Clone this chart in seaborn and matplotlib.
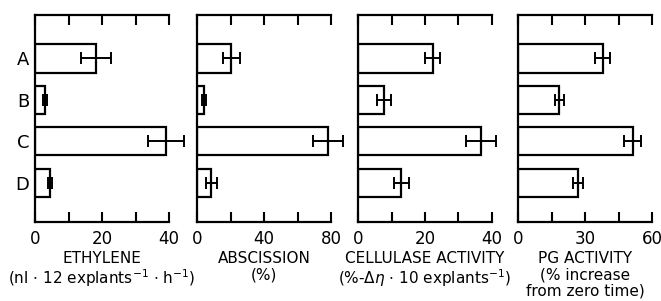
import numpy as np
import pandas as pd
import seaborn as sns
from matplotlib import pyplot as plt
from matplotlib.ticker import MultipleLocator

# data (bar value, +/- error)
treatments = ['A', 'B', 'C', 'D']
ethylene = [18.2, 3.0, 39.1, 4.5]
ethylene_err = [4.4, 0.6, 5.5, 0.7]
abscission = [20.5, 4.2, 78.0, 8.4]
abscission_err = [5.0, 1.2, 9.0, 3.3]
cellulase = [22.3, 7.8, 36.7, 12.9]
cellulase_err = [2.3, 2.0, 4.5, 2.3]
pg = [37.9, 18.5, 51.4, 27.0]
pg_err = [3.4, 2.0, 3.8, 2.2]

panels = [
     ('ETHYLENE\n(nl $\\cdot$ 12 explants$^{-1}$ $\\cdot$ h$^{-1}$)', ethylene, ethylene_err, 40, 20, 10),
     ('ABSCISSION\n(%)', abscission, abscission_err, 80, 40, 20),
     ('CELLULASE ACTIVITY\n(%-$\\Delta\\eta$ $\\cdot$ 10 explants$^{-1}$)', cellulase, cellulase_err, 40, 20, 10),
     ('PG ACTIVITY\n(% increase\nfrom zero time)', pg, pg_err, 60, 30, 15),
]

sns.set_theme(style='white', rc={'text.color': 'black', 'axes.labelcolor': 'black',
                                 'xtick.color': 'black', 'ytick.color': 'black'})
plt.rcParams['font.family'] = ['DejaVu Sans']

W, H = 661, 301
fig = plt.figure(figsize=(W / 100, H / 100), dpi=100)
lefts = [35, 197, 358, 518]

for i, (label, vals, errs, xmax, major, minor) in enumerate(panels):
     ax = fig.add_axes([lefts[i] / W, 79 / H, 134 / W, 207 / H])
     df = pd.DataFrame({'treatment': treatments, 'value': vals})
     sns.barplot(data=df, x='value', y='treatment', orient='h', color='white',
                 edgecolor='black', linewidth=1.6, width=0.68, errorbar=None, ax=ax)
     eb = ax.errorbar(x=vals, y=np.arange(len(treatments)), xerr=errs, fmt='none',
                      ecolor='black', elinewidth=1.4, capsize=4, capthick=1.4)
     for art in eb.lines[1] + eb.lines[2]:
          art.set_clip_on(False)

     ax.set_xlim(0, xmax)
     ax.set_ylim(3.95, -1.05)
     ax.xaxis.set_major_locator(MultipleLocator(major))
     ax.xaxis.set_minor_locator(MultipleLocator(minor))
     ax.tick_params(axis='x', which='both', direction='in', top=True, bottom=True,
                    length=7, width=1.5, color='black', labelsize=12, pad=6)
     ax.tick_params(axis='y', which='both', left=False, length=0, labelsize=13, pad=4)
     for s in ['left', 'top', 'bottom']:
          ax.spines[s].set_visible(True)
          ax.spines[s].set_color('black')
          ax.spines[s].set_linewidth(1.6)
     ax.spines['right'].set_visible(False)
     ax.set_xlabel(label, fontsize=11, labelpad=2, linespacing=1.1)
     ax.set_ylabel('')
     if i > 0:
          ax.set_yticklabels([])

fig.savefig('out.png', dpi=100)
